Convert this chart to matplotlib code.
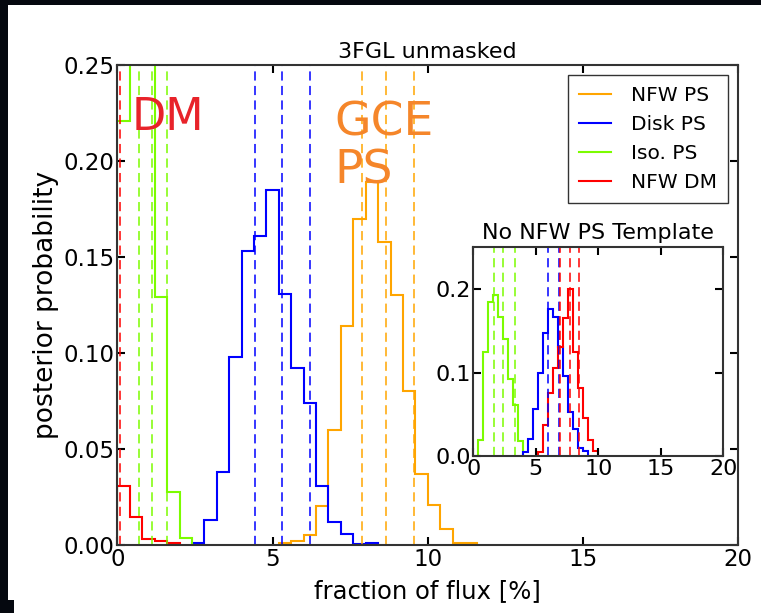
import numpy as np
import matplotlib.pyplot as plt
from matplotlib.patches import Rectangle

# bin width of all histograms (fraction of flux, %)
bw = 0.4

# main panel: 3FGL unmasked, posterior probability per bin
nfw_ps_start = 5.2
nfw_ps = [0.0012, 0.002, 0.0052, 0.0205, 0.060, 0.114, 0.170, 0.189, 0.158,
          0.130, 0.080, 0.0368, 0.021, 0.0085, 0.0008, 0.0012]
disk_ps_start = 2.4
disk_ps = [0.0009, 0.013, 0.0378, 0.098, 0.153, 0.161, 0.185, 0.131, 0.092,
           0.074, 0.031, 0.012, 0.0055, 0.0004, 0.0012]
iso_ps_start = 0.0
iso_ps = [0.221, 0.34, 0.28, 0.129, 0.0278, 0.0035]
nfw_dm_start = 0.0
nfw_dm = [0.031, 0.0148, 0.003, 0.0021, 0.0009]

# dashed quantile lines, main panel
q_nfw_ps = [7.87, 8.66, 9.56]
q_disk_ps = [4.43, 5.29, 6.22]
q_iso_ps = [0.70, 1.10, 1.60]
q_nfw_dm = [0.08]

# inset: no NFW PS template
in_disk_start = 4.0
in_disk = [0.005, 0.02, 0.056, 0.10, 0.147, 0.176, 0.166, 0.13, 0.096,
           0.053, 0.032, 0.010, 0.006]
in_iso_start = 0.4
in_iso = [0.019, 0.124, 0.185, 0.193, 0.166, 0.14, 0.092, 0.061, 0.018]
in_dm_start = 5.2
in_dm = [0.005, 0.037, 0.076, 0.105, 0.13, 0.165, 0.2, 0.125, 0.081,
         0.046, 0.019, 0.006]
in_q_disk = [5.97, 6.83]
in_q_iso = [1.68, 2.40, 3.31]
in_q_dm = [6.93, 7.76, 8.45]

c_nfw = 'orange'
c_disk = 'blue'
c_iso = 'lawngreen'
c_dm = 'red'


def edges(start, vals):
    return start + bw * np.arange(len(vals) + 1)


def style_axes(ax, fs):
    ax.tick_params(direction='in', top=True, right=True, length=6, width=1.5,
                   pad=2, labelsize=fs)
    for s in ax.spines.values():
        s.set_linewidth(1.5)
        s.set_color('#333333')


fig = plt.figure(figsize=(7.61, 6.13), dpi=100)
fig.patch.set_facecolor('white')
# black frame around the screenshot
fig.add_artist(Rectangle((0, 608 / 613), 1, 5 / 613, transform=fig.transFigure,
                         color='#05080f', lw=0))
fig.add_artist(Rectangle((0, 0), 8 / 761, 1, transform=fig.transFigure,
                         color='#05080f', lw=0))
fig.add_artist(Rectangle((0, 0), 14 / 761, 13 / 613, transform=fig.transFigure,
                         color='#05080f', lw=0))

ax = fig.add_axes([0.1544, 0.1109, 0.8154, 0.783])
ax.stairs(nfw_ps, edges(nfw_ps_start, nfw_ps), color=c_nfw, lw=1.5, label='NFW PS')
ax.stairs(disk_ps, edges(disk_ps_start, disk_ps), color=c_disk, lw=1.5, label='Disk PS')
ax.stairs(iso_ps, edges(iso_ps_start, iso_ps), color=c_iso, lw=1.5, label='Iso. PS')
ax.stairs(nfw_dm, edges(nfw_dm_start, nfw_dm), color=c_dm, lw=1.5, label='NFW DM')
for qs, c in [(q_nfw_ps, c_nfw), (q_disk_ps, c_disk), (q_iso_ps, c_iso), (q_nfw_dm, c_dm)]:
    for q in qs:
        ax.axvline(q, color=c, lw=1.1, dashes=(6, 3.5))

ax.set_xlim(0, 20)
ax.set_ylim(0, 0.25)
ax.set_xticks([0, 5, 10, 15, 20])
ax.set_yticks(np.arange(0, 0.26, 0.05))
ax.yaxis.set_major_formatter(plt.FormatStrFormatter('%.2f'))
style_axes(ax, 16.5)
ax.set_title('3FGL unmasked', fontsize=16, pad=5)
ax.set_xlabel('fraction of flux [%]', fontsize=17.5, labelpad=6)
ax.set_ylabel('posterior probability', fontsize=19, labelpad=3)

ax.text(0.45, 0.234, 'DM', color='#e8232a', fontsize=32, ha='left', va='top')
ax.text(7.0, 0.2315, 'GCE\nPS', color='#f5862a', fontsize=34, ha='left', va='top',
        linespacing=1.08)

leg = ax.legend(loc='upper right', bbox_to_anchor=(0.984, 0.979), borderaxespad=0,
                fontsize=14.5, handlelength=1.6, handletextpad=1.0,
                borderpad=0.55, fancybox=False, framealpha=1)
leg.get_frame().set_edgecolor('#333333')
leg.get_frame().set_linewidth(1.0)

ins = fig.add_axes([0.622, 0.2561, 0.3285, 0.3405])
ins.stairs(in_iso, edges(in_iso_start, in_iso), color=c_iso, lw=1.5)
ins.stairs(in_disk, edges(in_disk_start, in_disk), color=c_disk, lw=1.5)
ins.stairs(in_dm, edges(in_dm_start, in_dm), color=c_dm, lw=1.5)
for qs, c in [(in_q_iso, c_iso), (in_q_disk, c_disk), (in_q_dm, c_dm)]:
    for q in qs:
        ins.axvline(q, color=c, lw=1.1, dashes=(6, 3.5))
ins.set_xlim(0, 20)
ins.set_ylim(0, 0.25)
ins.set_xticks([0, 5, 10, 15, 20])
ins.set_yticks([0.0, 0.1, 0.2])
ins.yaxis.set_major_formatter(plt.FormatStrFormatter('%.1f'))
style_axes(ins, 16)
ins.set_title('No NFW PS Template', fontsize=16, pad=6)

fig.savefig('out.png', dpi=100)
